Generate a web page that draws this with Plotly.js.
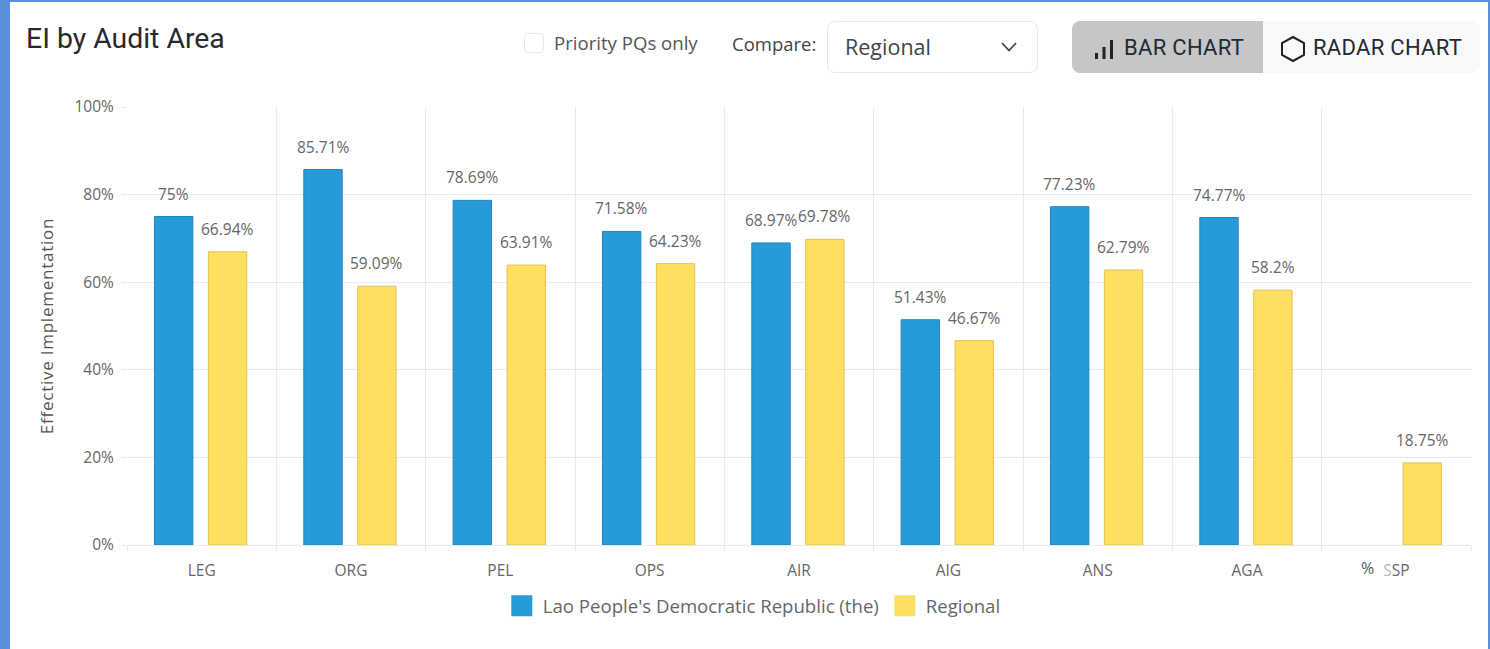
<!DOCTYPE html>
<html><head><meta charset="utf-8">
<script src="https://cdn.plot.ly/plotly-3.0.1.min.js"></script>
<style>
html,body{margin:0;padding:0;background:#fff;width:1490px;height:649px;overflow:hidden}
#chart{position:absolute;left:0;top:0;width:1490px;height:649px}
.f{position:absolute;background:#5b8fd9;z-index:5}
.u{position:absolute;z-index:6;white-space:nowrap;font-family:"Open Sans",sans-serif;color:#555;line-height:1}
.din{font-family:Roboto,sans-serif;color:#26292e;font-weight:400;letter-spacing:.3px}
#chart .ytitle{letter-spacing:.75px}
</style></head><body>
<div id="chart"></div>
<div class="f" style="left:0;top:0;width:10px;height:649px"></div>
<div class="f" style="left:0;top:0;width:1490px;height:2px"></div>
<div class="f" style="left:1488px;top:0;width:2px;height:649px"></div>

<div class="u" style="left:524px;top:33px;width:18px;height:18px;border:1px solid #e5e7eb;border-radius:4px"></div>
<div class="u" style="left:554px;top:34px;font-size:18.6px">Priority PQs only</div>
<div class="u" style="left:732px;top:35px;font-size:18.5px;color:#444">Compare:</div>
<div class="u" style="left:827px;top:21px;width:209px;height:50px;border:1px solid #e6e8ec;border-radius:8px"></div>
<div class="u" style="left:845px;top:36px;font-size:21.5px;color:#444">Regional</div>
<svg class="u" style="left:1000px;top:41px" width="18" height="12"><path d="M2,2 L9,9.5 L16,2" fill="none" stroke="#444" stroke-width="1.8"/></svg>
<div class="u" style="left:1072px;top:21px;width:191px;height:52px;background:#c4c6c8;border-radius:8px 0 0 8px"></div>
<div class="u" style="left:1263px;top:21px;width:217px;height:52px;background:#f8f9fa;border-radius:0 8px 8px 0"></div>
<svg class="u" style="left:1094px;top:38px;z-index:7" width="20" height="22"><path d="M2.5,15v6M10,9v12M17.5,2v19" stroke="#222" stroke-width="3" fill="none"/></svg>
<div class="u din" style="left:1124px;top:37px;font-size:22px;z-index:7">BAR CHART</div>
<svg class="u" style="left:1280px;top:35px;z-index:7" width="26" height="28"><path d="M13,2 L24,8 L24,20 L13,26 L2,20 L2,8 Z" fill="none" stroke="#222" stroke-width="2"/></svg>
<div class="u din" style="left:1313px;top:37px;font-size:22px;z-index:7">RADAR CHART</div>

<script>
var categories = ["LEG","ORG","PEL","OPS","AIR","AIG","ANS","AGA","SSP"];
var tickLabels = ["LEG","ORG","PEL","OPS","AIR","AIG","ANS","AGA","<span style=\"color:#bbb\">S</span>SP"];
var laoValues = [75,85.71,78.69,71.58,68.97,51.43,77.23,74.77,null];
var regionalValues = [66.94,59.09,63.91,64.23,69.78,46.67,62.79,58.2,18.75];
var laoName = "Lao People's Democratic Republic (the)";
var regionalName = "Regional";
var yTicks = [0,20,40,60,80,100];
var yTickLabels = ["0%","20%","40%","60%","80%","100%"];

var txt = "#666";
var font = '"Open Sans", sans-serif';
var barWidth = 0.257, laoOffset = -0.316, regionalOffset = 0.045;
var traces = [
 {type:'bar',name:laoName,x:categories,y:laoValues,width:barWidth,offset:laoOffset,marker:{color:'#269bd8',line:{color:'#1f87bf',width:1}},hoverinfo:'y'},
 {type:'bar',name:regionalName,x:categories,y:regionalValues,width:barWidth,offset:regionalOffset,marker:{color:'#ffdf5f',line:{color:'#e3c35a',width:1}},hoverinfo:'y'}
];
var annotations = [];
function addLabels(vals, dx){
  vals.forEach(function(v,i){
    if(v===null) return;
    annotations.push({x:i+dx,y:v,xref:'x',yref:'y',text:v+'%',showarrow:false,yanchor:'bottom',yshift:10,
      font:{family:font,size:15.5,color:txt}});
  });
}
addLabels(laoValues,laoOffset+barWidth/2);
addLabels(regionalValues,regionalOffset+barWidth/2);
annotations.push({x:7.81,y:-0.052,xref:'x',yref:'paper',xanchor:'center',yanchor:'middle',text:'%',showarrow:false,font:{family:font,size:16,color:'#555'}});

var layout = {
  width:1490,height:649,paper_bgcolor:'#fff',plot_bgcolor:'#fff',
  margin:{l:126.5,r:18.5,t:106.5,b:103.5,pad:0},
  title:{text:'EI by Audit Area',x:26/1490,xanchor:'left',y:1-38/649,yanchor:'middle',
    font:{family:'Roboto, sans-serif',size:28.4,color:'#26292e',weight:400}},
  barmode:'overlay',
  showlegend:true,
  legend:{orientation:'h',x:0.466,xanchor:'center',y:-0.096,yanchor:'top',font:{family:font,size:18.6,color:txt},itemclick:false,itemdoubleclick:false,itemwidth:32},
  xaxis:{type:'category',range:[-0.5,8.5],tickson:'boundaries',tickvals:categories,ticktext:tickLabels,
    ticks:'outside',ticklen:5,tickcolor:'#e9e9e9',tickwidth:1,showgrid:true,gridcolor:'#e9e9e9',gridwidth:1,
    showline:true,linecolor:'#e9e9e9',linewidth:1,zeroline:false,ticklabelstandoff:11,
    tickfont:{family:font,size:15.5,color:txt},fixedrange:true},
  yaxis:{range:[0,100],tickvals:yTicks,ticktext:yTickLabels,ticks:'outside',ticklen:5,tickcolor:'#e9e9e9',tickwidth:1,
    showgrid:true,gridcolor:'#e9e9e9',gridwidth:1,zeroline:false,showline:false,ticklabelstandoff:4,
    tickfont:{family:font,size:15.5,color:txt},fixedrange:true,
    title:{text:'Effective Implementation',standoff:16,font:{family:font,size:17,color:'#555'}}},
  annotations:annotations
};
function bigSwatches(){
  document.querySelectorAll('#chart .legendpoints path').forEach(function(p){
    p.setAttribute('d','M10.5,10.5H-10.5V-10.5H10.5Z');
    p.style.strokeWidth='0';
  });
}
Plotly.newPlot('chart',traces,layout,{displayModeBar:false,responsive:false}).then(function(gd){
  bigSwatches();
  gd.on('plotly_afterplot',bigSwatches);
});
</script>
</body></html>
